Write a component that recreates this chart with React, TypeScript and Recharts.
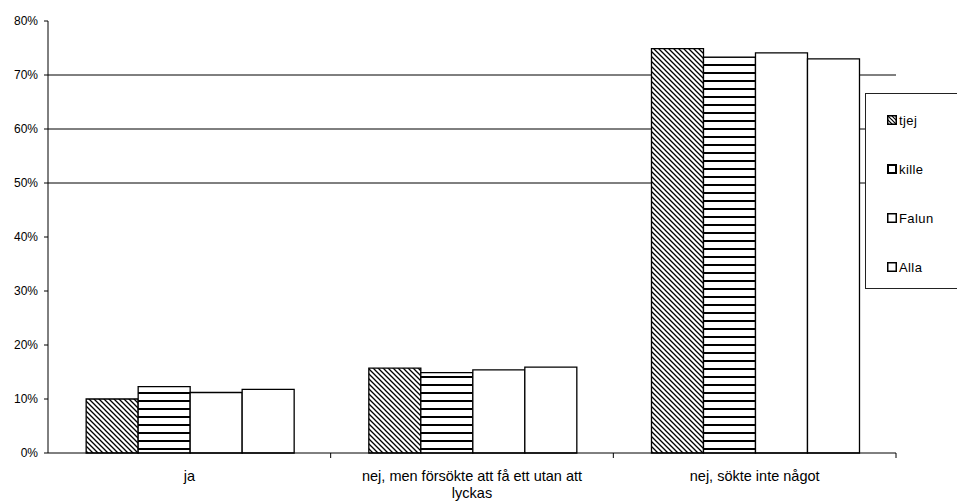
import { BarChart, Bar, XAxis, YAxis, CartesianGrid, Text } from "recharts";

const categories = ["ja", "nej, men försökte att få ett utan att lyckas", "nej, sökte inte något"];
const tjej = [10.0, 15.7, 74.9];
const kille = [12.3, 14.9, 73.3];
const falun = [11.2, 15.4, 74.1];
const alla = [11.8, 15.9, 73.0];
const yTicks = [0, 10, 20, 30, 40, 50, 60, 70, 80];
const gridValues = [50, 60, 70];
const seriesNames = ["tjej", "kille", "Falun", "Alla"];

const data = categories.map((category, i) => ({
  category,
  tjej: tjej[i],
  kille: kille[i],
  Falun: falun[i],
  Alla: alla[i],
}));

const FONT = "'Liberation Sans', Arial, sans-serif";

function CategoryTick(props: any) {
  const { x, y, payload, width, visibleTicksCount } = props;
  const band = width / visibleTicksCount;
  return (
    <g>
      <line x1={x + band / 2} y1={y} x2={x + band / 2} y2={y + 5} stroke="#000" />
      <Text
        x={x}
        y={y + 18}
        width={band * 0.9}
        textAnchor="middle"
        verticalAnchor="start"
        lineHeight="1.15em"
        fill="#000"
        style={{ fontSize: 14.5, fontFamily: FONT }}
      >
        {payload.value}
      </Text>
    </g>
  );
}

function LegendIcon({ name }: { name: string }) {
  return (
    <svg width={10} height={10} style={{ display: "block" }}>
      <defs>
        <pattern id={"lg-" + name} patternUnits="userSpaceOnUse" width={4} height={4}>
          <rect width={4} height={4} fill="#fff" />
          {name === "tjej" && <path d="M0,0 L4,4 M-1,3 L1,5 M3,-1 L5,1" stroke="#000" strokeWidth={1.2} />}
        </pattern>
      </defs>
      <rect x={0.75} y={0.75} width={8.5} height={8.5} fill={`url(#lg-${name})`} stroke="#000" strokeWidth={name === "kille" ? 2.5 : 1.5} />
    </svg>
  );
}

function ChartLegend() {
  return (
    <div
      style={{
        position: "absolute",
        left: 865,
        top: 93,
        width: 92,
        height: 196,
        borderTop: "1px solid #222",
        borderLeft: "1px solid #222",
        borderBottom: "1px solid #222",
        background: "#fff",
        boxSizing: "border-box",
        fontFamily: FONT,
        fontSize: 13,
        letterSpacing: 0.4,
      }}
    >
      {seriesNames.map((name, i) => (
        <div
          key={name}
          style={{
            position: "absolute",
            left: 21,
            top: 19 + i * 49,
            display: "flex",
            alignItems: "center",
            gap: 2,
            height: 14,
          }}
        >
          <LegendIcon name={name} />
          <span>{name}</span>
        </div>
      ))}
    </div>
  );
}

export default function App() {
  return (
    <div style={{ position: "fixed", left: 0, top: 0, width: 957, height: 501, background: "#fff" }}>
      <BarChart
        width={957}
        height={501}
        data={data}
        margin={{ top: 21, right: 61, left: 8, bottom: 0 }}
        barCategoryGap="13.5%"
        barGap={0}
      >
        <defs>
          <pattern id="hatchTjej" patternUnits="userSpaceOnUse" width={5} height={5}>
            <rect width={5} height={5} fill="#fff" />
            <path d="M0,0 L5,5 M-1,4 L1,6 M4,-1 L6,1" stroke="#000" strokeWidth={1.3} />
          </pattern>
          <pattern id="stripesKille" patternUnits="userSpaceOnUse" width={8} height={8}>
            <rect width={8} height={8} fill="#fff" />
            <rect y={0} width={8} height={2} fill="#000" />
          </pattern>
        </defs>
        <CartesianGrid vertical={false} horizontalValues={gridValues} stroke="#000" strokeWidth={1} />
        <XAxis
          dataKey="category"
          axisLine={{ stroke: "#000" }}
          tickLine={false}
          tickSize={0}
          tickMargin={0}
          height={48}
          interval={0}
          tick={<CategoryTick />}
        />
        <YAxis
          domain={[0, 80]}
          ticks={yTicks}
          width={40}
          axisLine={{ stroke: "#000" }}
          tickLine={{ stroke: "#000" }}
          tickSize={4}
          tickMargin={6}
          tickFormatter={(v: number) => `${v}%`}
          tick={{ fill: "#000", fontSize: 12, fontFamily: FONT }}
        />
        <Bar dataKey="tjej" fill="url(#hatchTjej)" stroke="#000" strokeWidth={1.3} isAnimationActive={false} />
        <Bar dataKey="kille" fill="url(#stripesKille)" stroke="#000" strokeWidth={1.3} isAnimationActive={false} />
        <Bar dataKey="Falun" fill="#fff" stroke="#000" strokeWidth={1.3} isAnimationActive={false} />
        <Bar dataKey="Alla" fill="#fff" stroke="#000" strokeWidth={1.3} isAnimationActive={false} />
      </BarChart>
      <ChartLegend />
    </div>
  );
}
